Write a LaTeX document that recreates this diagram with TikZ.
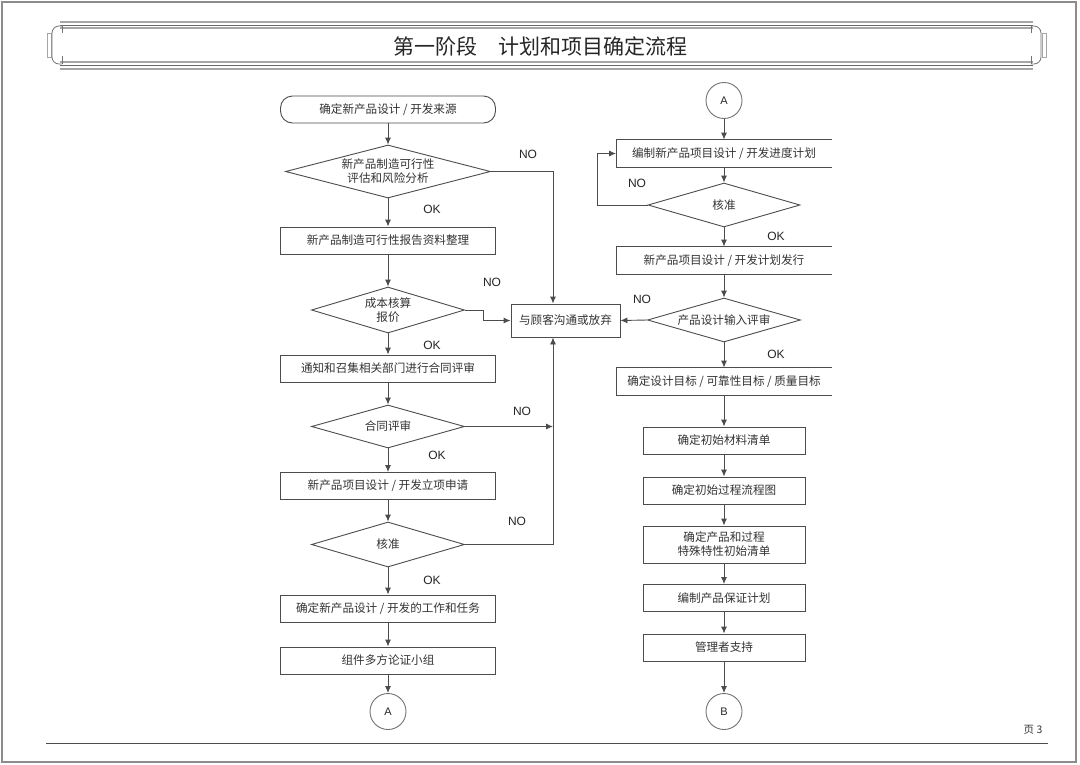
\documentclass[tikz,border=0pt]{standalone}
\usepackage{fontspec}
\setmainfont{Liberation Sans}
\newfontfamily\cjk{Noto Sans CJK SC}
\usetikzlibrary{shapes.geometric,arrows.meta}

\newcommand{\titlecap}{%
	\draw[black!35, line width=1pt] (47,33) rectangle (51,57);
	\draw[black!55, line width=0.8pt, rounded corners=7pt] (62,26) -- (52,26) -- (52,64) -- (62,64);
	\draw[black!55, line width=0.8pt] (62,25) -- (62,33) (62,56) -- (62,64);
}

\begin{document}
\begin{tikzpicture}[x=1pt, y=-1pt, >={Latex[length=7pt,width=6pt]},
	flow/.style={draw=black!70, line width=0.9pt},
	process/.style={draw=black!70, line width=0.9pt, fill=white, minimum width=215pt, minimum height=27pt, inner sep=0pt, align=center, font=\cjk\fontsize{11.6}{14}\selectfont, text=black!80},
	terminal/.style={process, rounded corners=12pt},
	openbox/.style={process, draw=none},
	decision/.style={diamond, draw=black!70, line width=0.9pt, inner sep=0pt, minimum width=153pt, minimum height=44pt},
	dtext/.style={align=center, font=\cjk\fontsize{11.6}{14}\selectfont, text=black!80},
	connector/.style={circle, draw=black!55, line width=0.9pt, minimum size=36pt, inner sep=0pt, font=\fontsize{11}{13}\selectfont, text=black!85},
	answer/.style={font=\fontsize{12}{14}\selectfont, text=black!85}]
	\fill[white] (0,0) rectangle (1080,764);
	\draw[black!45, line width=1.5pt] (2,2) rectangle (1076,762);

	\draw[black!35, line width=1.2pt] (60,22) -- (1033,22) (60,28) -- (1033,28) (60,62) -- (1033,62) (60,69) -- (1033,69);
	\draw[black!60, line width=0.8pt] (60,25) -- (1033,25) (60,65) -- (1033,65);
	\titlecap
	\begin{scope}[xshift=1093pt, xscale=-1]
		\titlecap
	\end{scope}
	\node[font=\cjk\fontsize{21}{25}\selectfont, text=black!85] (title) at (540,46) {第一阶段　计划和项目确定流程};

	\node[terminal] (src) at (388,109.5) {确定新产品设计 / 开发来源};
	\node[decision, minimum width=205pt, minimum height=53pt, label={[dtext]center:新产品制造可行性\\评估和风险分析}] (feas) at (388,171.5) {};
	\node[process] (report) at (388,240.5) {新产品制造可行性报告资料整理};
	\node[decision, minimum height=46pt, label={[dtext]center:成本核算\\报价}] (cost) at (388,310) {};
	\node[process] (notify) at (388,368.5) {通知和召集相关部门进行合同评审};
	\node[decision, minimum height=43pt, label={[dtext]center:合同评审}] (review) at (388,426.5) {};
	\node[process] (apply) at (388,486) {新产品项目设计 / 开发立项申请};
	\node[decision, minimum height=45pt, label={[dtext]center:核准}] (approveL) at (388,544.5) {};
	\node[process] (tasks) at (388,608.5) {确定新产品设计 / 开发的工作和任务};
	\node[process] (team) at (388,660.5) {组件多方论证小组};
	\node[connector] (outA) at (388,711.5) {A};

	\node[process, minimum width=109pt, minimum height=33pt] (talk) at (565.5,320.5) {与顾客沟通或放弃};
	\coordinate (bus) at (553,426.5);

	\node[connector] (inA) at (724,100.5) {A};
	\node[openbox] (sched) at (724,153.5) {编制新产品项目设计 / 开发进度计划};
	\node[decision, minimum width=152pt, label={[dtext]center:核准}] (approveR) at (724,205) {};
	\node[openbox] (issue) at (724,260.5) {新产品项目设计 / 开发计划发行};
	\node[decision, label={[dtext]center:产品设计输入评审}] (input) at (724,320) {};
	\node[openbox] (goals) at (724,381.5) {确定设计目标 / 可靠性目标 / 质量目标};
	\node[process, minimum width=162pt] (bom) at (724,440.5) {确定初始材料清单};
	\node[process, minimum width=162pt] (pflow) at (724,490.5) {确定初始过程流程图};
	\node[process, minimum width=162pt, minimum height=37pt] (special) at (724,544.5) {确定产品和过程\\特殊特性初始清单};
	\node[process, minimum width=162pt] (plan) at (724,598) {编制产品保证计划};
	\node[process, minimum width=162pt] (mgmt) at (724,647.5) {管理者支持};
	\node[connector] (outB) at (724,711.5) {B};

	\foreach \n in {sched, issue, goals}
		\draw[flow] (\n.north east) -- (\n.north west) -- (\n.south west) -- (\n.south east);

	\foreach \a/\b in {src/feas, feas/report, report/cost, cost/notify, notify/review, review/apply, apply/approveL, approveL/tasks, tasks/team, team/outA, inA/sched, sched/approveR, approveR/issue, issue/input, input/goals, goals/bom, bom/pflow, pflow/special, special/plan, plan/mgmt, mgmt/outB}
		\draw[flow, ->] (\a) -- (\b);

	\draw[flow, ->] (feas.east) -| ([xshift=-12.5pt]talk.north);
	\draw[flow, ->] (cost.east) -- ++(18,0) |- (talk.west);
	\draw[flow, ->] (review.east) -- (bus);
	\draw[flow, ->] (approveL.east) -| ([xshift=-12.5pt]talk.south);
	\draw[flow, ->] (approveR.west) -- ++(-50,0) |- (sched.west);
	\draw[flow, ->] (input.west) -- (talk.east);

	\node[answer] (no1) at (528,154) {NO};
	\node[answer] (ok1) at (432,209) {OK};
	\node[answer] (no2) at (492,282) {NO};
	\node[answer] (ok2) at (432,345) {OK};
	\node[answer] (no3) at (522,411) {NO};
	\node[answer] (ok3) at (437,455) {OK};
	\node[answer] (no4) at (517,521) {NO};
	\node[answer] (ok4) at (432,580) {OK};
	\node[answer] (no5) at (637,183) {NO};
	\node[answer] (ok5) at (776,236) {OK};
	\node[answer] (no6) at (642,299) {NO};
	\node[answer] (ok6) at (776,354) {OK};

	\draw[black!70, line width=1pt] (46,743) -- (1048,743);
	\node[font=\cjk\fontsize{10.5}{12}\selectfont, text=black!80] (page) at (1033,730) {页 3};
\end{tikzpicture}
\end{document}
